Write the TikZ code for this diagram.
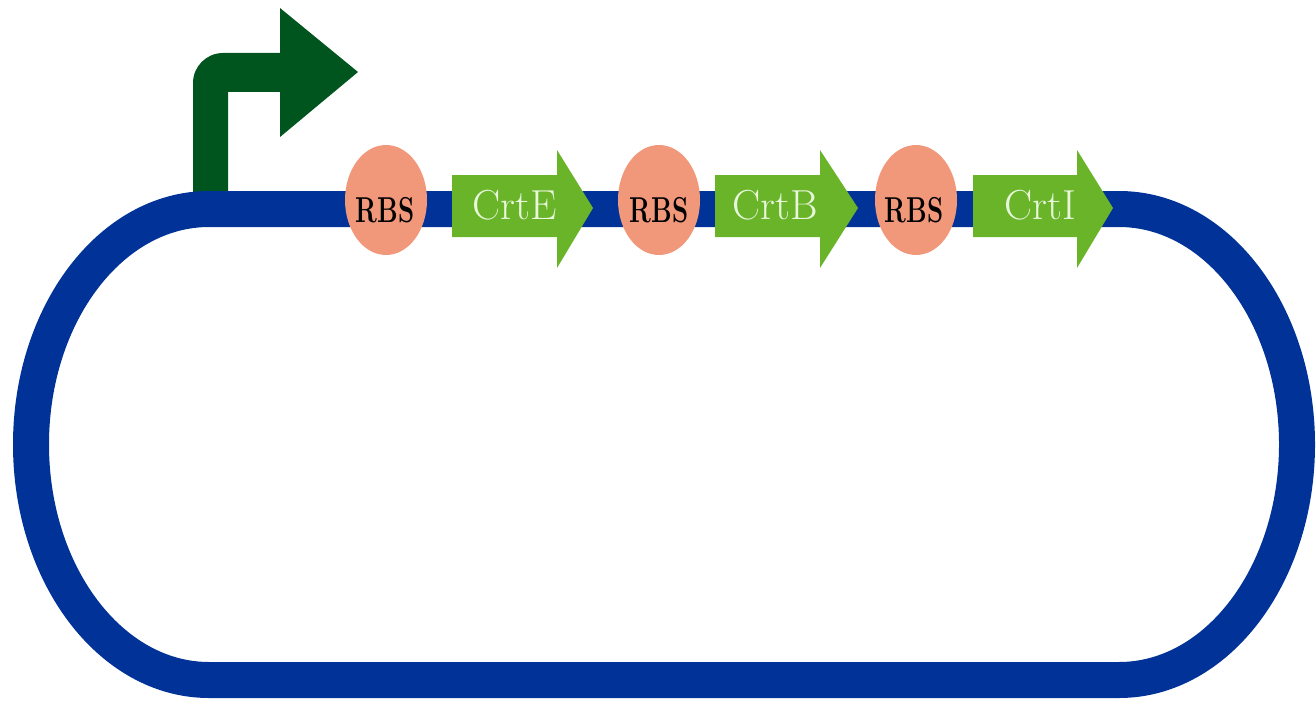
\documentclass[tikz,border=0pt]{standalone}
\usepackage{graphicx}
\usetikzlibrary{shapes.geometric}
\definecolor{plasmid}{RGB}{0,50,152}
\definecolor{promo}{RGB}{0,84,30}
\definecolor{rbs}{RGB}{241,152,122}
\definecolor{gene}{RGB}{106,180,42}
\definecolor{genetext}{RGB}{232,246,218}
\begin{document}
\begin{tikzpicture}[x=0.5pt,y=0.5pt,
  plasmidline/.style={draw=plasmid, line width=18pt},
  promoter/.style={fill=promo},
  genebody/.style={fill=gene},
  rbsnode/.style={ellipse, fill=rbs, minimum width=41pt, minimum height=55pt, inner sep=0pt},
  rbslabel/.style={inner sep=0pt, font=\fontsize{18}{20}\selectfont\bfseries, text=black},
  genelabel/.style={inner sep=0pt, font=\fontsize{21}{24}\selectfont, text=genetext}]
\useasboundingbox (0,0) rectangle (1316,703);
% promoter
\fill[promoter] (193,498) -- (193,620) arc[start angle=180,end angle=90,radius=30] -- (280,650) -- (280,695) -- (358,631) -- (280,566) -- (280,611) -- (228,611) -- (228,498) -- cycle;
% plasmid backbone
\draw[plasmidline] (209,494) -- (1119,494) arc[start angle=90,end angle=-90,x radius=178,y radius=235.5] -- (209,23) arc[start angle=270,end angle=90,x radius=178,y radius=235.5] -- cycle;
% RBS
\node[rbsnode] (r1) at (386,503) {};
\node[rbsnode] (r2) at (659,503) {};
\node[rbsnode] (r3) at (916,503) {};
\node[rbslabel] (r1t) at (385,493) {\scalebox{0.72}[1]{RBS}};
\node[rbslabel] (r2t) at (659,493) {\scalebox{0.72}[1]{RBS}};
\node[rbslabel] (r3t) at (914,493) {\scalebox{0.72}[1]{RBS}};
% genes
\fill[genebody] (452,466) -- (452,528) -- (557,528) -- (557,553) -- (593,495) -- (557,435) -- (557,466) -- cycle;
\fill[genebody] (715,466) -- (715,528) -- (820,528) -- (820,553) -- (858,495) -- (820,435) -- (820,466) -- cycle;
\fill[genebody] (973,466) -- (973,528) -- (1077,528) -- (1077,553) -- (1113,495) -- (1077,435) -- (1077,466) -- cycle;
\node[genelabel] (g1) at (515,498) {CrtE};
\node[genelabel] (g2) at (775,498) {CrtB};
\node[genelabel] (g3) at (1040,498) {CrtI};
\end{tikzpicture}
\end{document}
